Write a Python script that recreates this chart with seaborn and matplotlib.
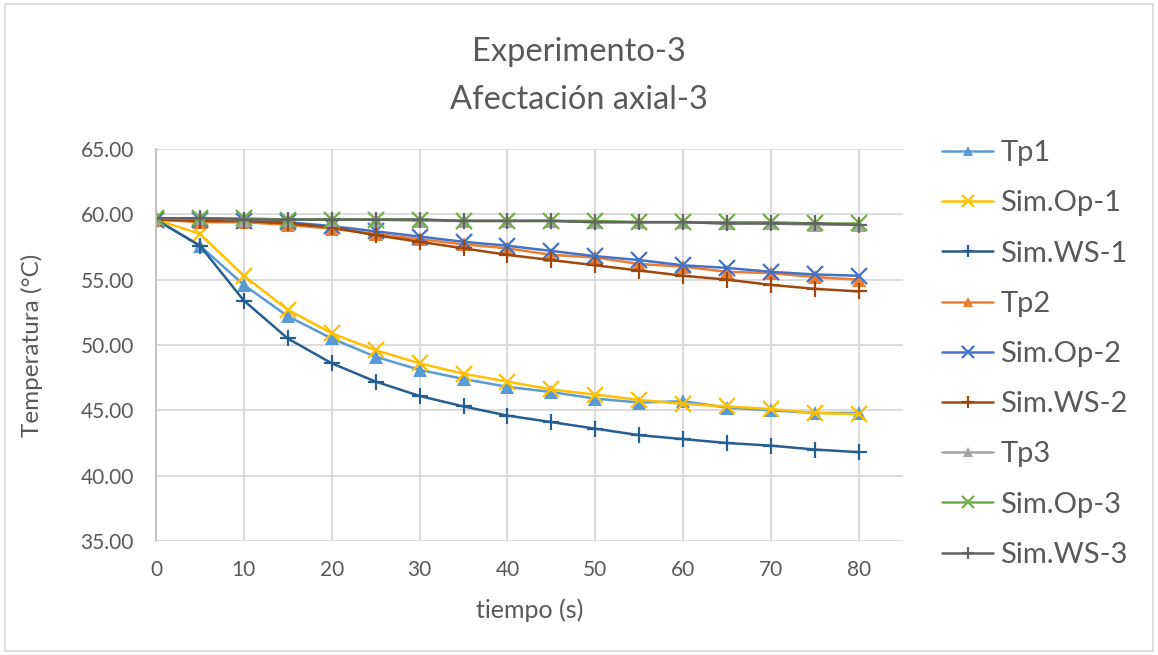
import matplotlib
matplotlib.use('Agg')
import matplotlib.pyplot as plt
import pandas as pd
import seaborn as sns
from matplotlib.patches import Rectangle
from matplotlib.ticker import FormatStrFormatter, MultipleLocator

tiempo = [0, 5, 10, 15, 20, 25, 30, 35, 40, 45, 50, 55, 60, 65, 70, 75, 80]

tp1 = [59.6, 57.6, 54.6, 52.2, 50.5, 49.1, 48.1, 47.4, 46.8, 46.4, 45.9, 45.6, 45.7, 45.2, 45.0, 44.8, 44.8]
sim_op1 = [59.6, 58.5, 55.3, 52.7, 50.9, 49.6, 48.6, 47.8, 47.2, 46.6, 46.2, 45.8, 45.5, 45.3, 45.1, 44.8, 44.7]
sim_ws1 = [59.6, 57.6, 53.4, 50.5, 48.6, 47.2, 46.1, 45.3, 44.6, 44.1, 43.6, 43.1, 42.8, 42.5, 42.3, 42.0, 41.8]

tp2 = [59.6, 59.4, 59.4, 59.2, 58.9, 58.5, 58.1, 57.7, 57.4, 56.9, 56.7, 56.2, 56.0, 55.6, 55.5, 55.2, 55.0]
sim_op2 = [59.6, 59.6, 59.5, 59.4, 59.1, 58.7, 58.3, 57.9, 57.6, 57.2, 56.8, 56.5, 56.1, 55.9, 55.6, 55.4, 55.3]
sim_ws2 = [59.6, 59.5, 59.5, 59.3, 59.0, 58.4, 57.9, 57.4, 56.9, 56.5, 56.1, 55.7, 55.3, 55.0, 54.6, 54.3, 54.1]

tp3 = [59.7, 59.7, 59.6, 59.6, 59.6, 59.6, 59.5, 59.5, 59.5, 59.5, 59.4, 59.4, 59.4, 59.3, 59.3, 59.2, 59.2]
sim_op3 = [59.7, 59.7, 59.7, 59.6, 59.6, 59.6, 59.6, 59.5, 59.5, 59.5, 59.5, 59.4, 59.4, 59.4, 59.4, 59.3, 59.3]
sim_ws3 = [59.7, 59.7, 59.6, 59.6, 59.6, 59.6, 59.6, 59.5, 59.5, 59.5, 59.4, 59.4, 59.4, 59.3, 59.3, 59.3, 59.2]

series_names = ['Tp1', 'Sim.Op-1', 'Sim.WS-1', 'Tp2', 'Sim.Op-2', 'Sim.WS-2', 'Tp3', 'Sim.Op-3', 'Sim.WS-3']
series_values = [tp1, sim_op1, sim_ws1, tp2, sim_op2, sim_ws2, tp3, sim_op3, sim_ws3]
colors = ['#5B9BD5', '#FFC000', '#255E91', '#ED7D31', '#4472C4', '#9E480E', '#A5A5A5', '#70AD47', '#636363']
markers = ['^', 'x', '+', '^', 'x', '+', '^', 'x', '+']

sns.set_style('white')
plt.rcParams['font.family'] = ['Lato', 'DejaVu Sans']
text_col = '#595959'

fig = plt.figure(figsize=(11.58, 6.55), dpi=100)
ax = fig.add_axes([0.1347, 0.174, 0.645, 0.5985])

for name, vals, col, mk in zip(series_names, series_values, colors, markers):
    df = pd.DataFrame({'tiempo': tiempo, 'temp': vals})
    if mk == '^':
        kw = dict(markersize=10, markeredgewidth=0)
    else:
        kw = dict(markersize=11, markeredgewidth=1.6)
    sns.lineplot(data=df, x='tiempo', y='temp', ax=ax, color=col, marker=mk,
                 markeredgecolor=col, markerfacecolor=col, linewidth=1.8,
                 label=name, **kw)

ax.set_xlim(0, 85)
ax.set_ylim(35, 65)
ax.set_xticks([0, 10, 20, 30, 40, 50, 60, 70, 80])
ax.yaxis.set_major_locator(MultipleLocator(5))
ax.yaxis.set_major_formatter(FormatStrFormatter('%.2f'))
ax.grid(True, color='#D9D9D9', linewidth=1.3)
ax.set_axisbelow(True)
for side in ['top', 'right', 'bottom']:
    ax.spines[side].set_visible(False)
ax.spines['left'].set_color('#BFBFBF')
ax.spines['left'].set_linewidth(1.3)
ax.tick_params(axis='both', length=0, labelsize=15, labelcolor=text_col)
ax.tick_params(axis='y', pad=16)
ax.tick_params(axis='x', pad=14)

ax.set_xlabel('tiempo (s)', fontsize=18, color=text_col, labelpad=13)
ax.set_ylabel('Temperatura (°C)', fontsize=17.5, color=text_col, labelpad=27)

fig.text(0.5, 0.921, 'Experimento-3', ha='center', va='center', fontsize=23.5, color=text_col)
fig.text(0.5, 0.847, 'Afectación axial-3', ha='center', va='center', fontsize=23.5, color=text_col)

leg = ax.legend(loc='upper left', bbox_to_anchor=(0.8135, 0.786), bbox_transform=fig.transFigure,
                frameon=False, fontsize=21, labelspacing=0.83, handlelength=1.75,
                handletextpad=0.25, borderpad=0, borderaxespad=0, markerscale=0.75,
                labelcolor=text_col)

fig.patches.append(Rectangle((0.004, 0.006), 0.992, 0.988, transform=fig.transFigure,
                             fill=False, edgecolor='#D9D9D9', linewidth=1.2))

fig.savefig('out.png', dpi=100)
